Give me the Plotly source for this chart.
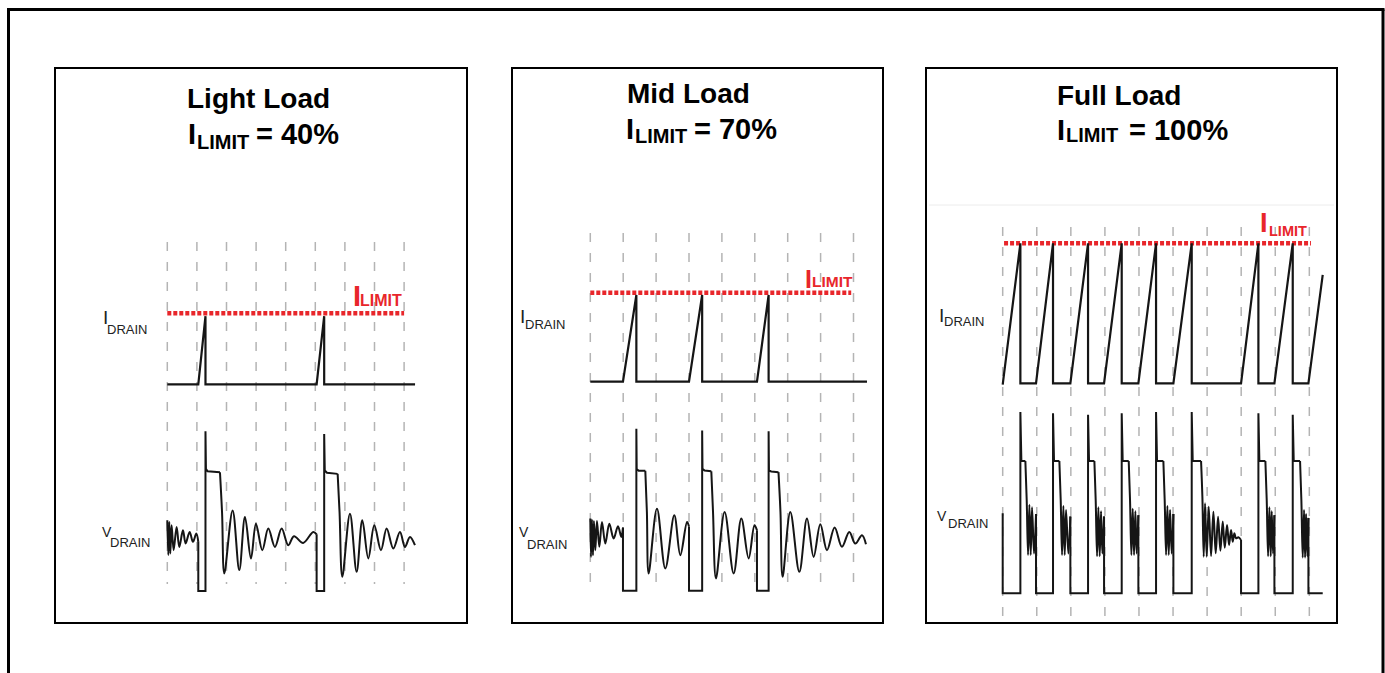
import plotly.graph_objects as go

W, H = 1385, 673

# ---------------- data (time in grid divisions, I in fraction of full limit, V normalised to plateau) ----------------
titles = ["Light Load", "Mid Load", "Full Load"]
limit_text = ["= 40%", "= 70%", "= 100%"]
i_limit = [0.4, 0.7, 1.0]

grid_1 = [0, 1, 2, 3, 4, 5, 6, 7, 8]
grid_2 = [0, 1, 2, 3, 4, 5, 6, 7, 8]
grid_3 = [0, 1, 2, 3, 4, 5, 6, 7, 8, 9]

limit_t_1 = [0.0, 8.0]
limit_t_2 = [0.0, 7.93]
limit_t_3 = [0.04, 9.05]

# ---- Light load ----
idrain_t_1 = [0.0, 1.047, 1.29, 1.29, 5.045, 5.30, 5.30, 8.37]
idrain_v_1 = [0.0, 0.0, 0.383, 0.0, 0.0, 0.383, 0.0, 0.0]

vedge_t_1 = [1.047, 1.047, 1.29, 1.29, 1.305, 1.363, 1.779, None,
             5.045, 5.045, 5.30, 5.30, 5.32, 5.394, 5.755]
vedge_v_1 = [0.408, 0.0, 0.0, 1.325, 1.014, 0.994, 0.986, None,
             0.47, 0.0, 0.0, 1.303, 1.0, 0.981, 0.972]

vring_t_1 = [0.0, 0.034, 0.068, 0.101, 0.146, 0.214, 0.315, 0.405, 0.529, 0.619, 0.755, 0.867, 0.980, 1.047, None,
             1.779, 1.85, 1.926, 2.207, 2.432, 2.624, 2.827, 2.995, 3.209, 3.412, 3.637, 3.863, 4.088, 4.28, 4.59,
             4.93, 5.045, None,
             5.755, 5.82, 5.912, 6.171, 6.396, 6.588, 6.791, 6.993, 7.218, 7.41, 7.635, 7.860, 8.029, 8.198, 8.367]
vring_v_1 = [0.587, 0.298, 0.573, 0.311, 0.545, 0.339, 0.532, 0.366, 0.504, 0.394, 0.490, 0.408, 0.477, 0.408, None,
             0.986, 0.65, 0.146, 0.669, 0.174, 0.614, 0.270, 0.559, 0.339, 0.518, 0.366, 0.518, 0.380, 0.455, 0.399,
             0.490, 0.47, None,
             0.972, 0.65, 0.118, 0.642, 0.160, 0.587, 0.270, 0.545, 0.339, 0.518, 0.353, 0.490, 0.366, 0.449, 0.380]

# ---- Mid load ----
idrain_t_2 = [0.0, 0.993, 1.40, 1.40, 3.0, 3.40, 3.40, 5.066, 5.42, 5.42, 8.41]
idrain_v_2 = [0.0, 0.0, 0.682, 0.0, 0.0, 0.682, 0.0, 0.0, 0.682, 0.0, 0.0]

vedge_t_2 = [0.993, 0.993, 1.40, 1.40, 1.41, 1.47, 1.672, None,
             3.0, 3.0, 3.40, 3.40, 3.41, 3.475, 3.678, None,
             5.066, 5.066, 5.42, 5.42, 5.43, 5.50, 5.72]
vedge_v_2 = [0.521, 0.0, 0.0, 1.337, 1.005, 0.99, 0.989, None,
             0.53, 0.0, 0.0, 1.321, 1.005, 0.992, 0.986, None,
             0.499, 0.0, 0.0, 1.315, 0.992, 0.984, 0.978]

vring_t_2 = [0.0, 0.020, 0.051, 0.081, 0.111, 0.152, 0.203, 0.274, 0.355, 0.456, 0.578, 0.709, 0.841, 0.942, 0.993, None,
             1.672, 1.72, 1.773, 2.026, 2.28, 2.553, 2.736, 2.94, 3.0, None,
             3.678, 3.73, 3.82, 4.083, 4.357, 4.59, 4.813, 4.99, 5.066, None,
             5.72, 5.78, 5.846, 6.079, 6.353, 6.586, 6.788, 6.991, 7.194, 7.427, 7.649, 7.872, 8.055, 8.257, 8.379]
vring_v_2 = [0.595, 0.279, 0.586, 0.293, 0.575, 0.334, 0.575, 0.362, 0.567, 0.389, 0.553, 0.430, 0.532, 0.444, 0.521, None,
             0.989, 0.65, 0.142, 0.677, 0.184, 0.622, 0.293, 0.567, 0.53, None,
             0.986, 0.65, 0.101, 0.649, 0.142, 0.595, 0.266, 0.540, 0.499, None,
             0.978, 0.65, 0.115, 0.649, 0.156, 0.595, 0.279, 0.548, 0.334, 0.521, 0.362, 0.485, 0.389, 0.458, 0.384]

# ---- Full load ----
idrain_t_3 = [0.0, 0.519, 0.519, 0.978, 1.477, 1.477, 1.986, 2.505, 2.505, 2.975, 3.493, 3.493, 3.982, 4.501, 4.501,
              5.010, 5.548, 5.548, 6.996, 7.505, 7.505, 7.975, 8.513, 8.513, 8.973, 9.393]
idrain_v_3 = [-0.01, 1.0, 0.0, 0.0, 1.0, 0.0, 0.0, 1.0, 0.0, 0.0, 1.0, 0.0, 0.0, 1.0, 0.0,
              0.0, 1.0, 0.0, 0.0, 1.0, 0.0, 0.0, 1.0, 0.0, 0.0, 0.774]

vedge_t_3 = [0.0, 0.0, 0.519, 0.519, 0.548, 0.665, None,
             0.978, 0.978, 1.477, 1.477, 1.506, 1.663, None,
             1.986, 1.986, 2.505, 2.505, 2.534, 2.691, None,
             2.975, 2.975, 3.493, 3.493, 3.522, 3.699, None,
             3.982, 3.982, 4.501, 4.501, 4.530, 4.716, None,
             5.010, 5.010, 5.548, 5.548, 5.577, 5.822, None,
             6.996, 6.996, 7.505, 7.505, 7.534, 7.710, None,
             7.975, 7.975, 8.513, 8.513, 8.542, 8.728, None,
             8.973, 8.973, 9.393]
vedge_v_3 = [0.605, 0.0, 0.0, 1.37, 1.0, 1.0, None,
             0.60, 0.0, 0.0, 1.36, 1.0, 1.0, None,
             0.58, 0.0, 0.0, 1.35, 1.0, 1.0, None,
             0.58, 0.0, 0.0, 1.36, 1.0, 1.0, None,
             0.59, 0.0, 0.0, 1.37, 1.0, 1.0, None,
             0.60, 0.0, 0.0, 1.37, 1.0, 1.0, None,
             0.403, 0.0, 0.0, 1.36, 1.0, 1.0, None,
             0.59, 0.0, 0.0, 1.35, 1.0, 1.0, None,
             0.57, 0.0, 0.0]

vring_t_3 = [0.665, 0.705, 0.744, 0.783, 0.822, 0.861, 0.920, 0.978, None,
             1.663, 1.703, 1.742, 1.781, 1.820, 1.859, 1.928, 1.986, None,
             2.691, 2.730, 2.769, 2.808, 2.847, 2.886, 2.926, 2.975, None,
             3.699, 3.738, 3.777, 3.816, 3.855, 3.894, 3.933, 3.982, None,
             4.716, 4.755, 4.795, 4.834, 4.873, 4.912, 4.961, 5.010, None,
             5.822, 5.861, 5.900, 5.939, 5.988, 6.047, 6.115, 6.184, 6.252, 6.321, 6.389, 6.458, 6.517, 6.585,
             6.644, 6.703, 6.751, 6.800, 6.849, 6.918, 6.996, None,
             7.710, 7.750, 7.789, 7.828, 7.867, 7.896, 7.935, 7.975, None,
             8.728, 8.767, 8.806, 8.845, 8.875, 8.904, 8.943, 8.973]
vring_v_3 = [1.0, 0.70, 0.29, 0.67, 0.29, 0.65, 0.30, 0.60, None,
             1.0, 0.70, 0.29, 0.66, 0.29, 0.63, 0.30, 0.58, None,
             1.0, 0.70, 0.28, 0.65, 0.28, 0.62, 0.30, 0.58, None,
             1.0, 0.70, 0.29, 0.64, 0.29, 0.62, 0.30, 0.59, None,
             1.0, 0.70, 0.29, 0.66, 0.29, 0.63, 0.30, 0.60, None,
             1.0, 0.730, 0.277, 0.680, 0.277, 0.655, 0.282, 0.617, 0.302, 0.579, 0.322, 0.542, 0.345, 0.516,
             0.365, 0.479, 0.390, 0.453, 0.416, 0.423, 0.403, None,
             1.0, 0.70, 0.28, 0.65, 0.28, 0.62, 0.30, 0.59, None,
             1.0, 0.70, 0.27, 0.63, 0.27, 0.60, 0.28, 0.57]

# ---------------- layout geometry (window pixels) ----------------
panels = [
    dict(L=56, R=466, T=69, B=622, x0=167.3, s=29.6, ib=384.3, il=313.2, v0=591.0, v1=470.5, gt=242, gb=584,
         grid=grid_1, lim_t=limit_t_1, it=idrain_t_1, iv=idrain_v_1, et=vedge_t_1, ev=vedge_v_1,
         rt=vring_t_1, rv=vring_v_1),
    dict(L=513, R=882, T=69, B=622, x0=590.3, s=32.9, ib=381.7, il=292.7, v0=590.7, v1=469.5, gt=233, gb=591,
         grid=grid_2, lim_t=limit_t_2, it=idrain_t_2, iv=idrain_v_2, et=vedge_t_2, ev=vedge_v_2,
         rt=vring_t_2, rv=vring_v_2),
    dict(L=927, R=1335.5, T=69, B=622, x0=1002.7, s=34.07, ib=383.3, il=243.3, v0=593.3, v1=461.0, gt=227, gb=618,
         grid=grid_3, lim_t=limit_t_3, it=idrain_t_3, iv=idrain_v_3, et=vedge_t_3, ev=vedge_v_3,
         rt=vring_t_3, rv=vring_v_3),
]

RED = "#e8262b"
INK = "#151515"
GRID = "#b4b4b4"
SANS = "Liberation Sans, Arial, sans-serif"


def px(x):
    return x / W


def py(y):
    return 1 - y / H


def yrange(top, bot, va, pa, vb, pb):
    k = (vb - va) / (pa - pb)
    return [va + (pa - bot) * k, va + (pa - top) * k]


fig = go.Figure()
layout = dict(width=W, height=H, margin=dict(l=0, r=0, t=0, b=0), paper_bgcolor="white",
              plot_bgcolor="rgba(0,0,0,0)", showlegend=False)
shapes = []

for k, p in enumerate(panels, start=1):
    xname = "x" if k == 1 else f"x{k}"
    xkey = "xaxis" if k == 1 else f"xaxis{k}"
    yi = 2 * k - 1
    yv = 2 * k
    yiname = "y" if yi == 1 else f"y{yi}"
    yikey = "yaxis" if yi == 1 else f"yaxis{yi}"
    yvname = f"y{yv}"
    yvkey = f"yaxis{yv}"
    common = dict(showgrid=False, zeroline=False, showticklabels=False, ticks="", fixedrange=True)
    layout[xkey] = dict(domain=[px(p["L"]), px(p["R"])],
                        range=[(p["L"] - p["x0"]) / p["s"], (p["R"] - p["x0"]) / p["s"]],
                        anchor=yiname, showline=True, mirror=True, linecolor="black", linewidth=2, **common)
    layout[yikey] = dict(domain=[py(p["B"]), py(p["T"])],
                         range=yrange(p["T"], p["B"], 0.0, p["ib"], i_limit[k - 1], p["il"]),
                         anchor=xname, showline=True, mirror=True, linecolor="black", linewidth=2, **common)
    layout[yvkey] = dict(overlaying=yiname, anchor=xname,
                         range=yrange(p["T"], p["B"], 0.0, p["v0"], 1.0, p["v1"]), visible=False, **common)

    for g in p["grid"]:
        shapes.append(dict(type="line", xref=xname, yref="paper", x0=g, x1=g, y0=py(p["gt"]), y1=py(p["gb"]),
                           line=dict(color=GRID, width=1.5, dash="9px,11px"), layer="below"))

    fig.add_trace(go.Scatter(x=p["lim_t"], y=[i_limit[k - 1]] * len(p["lim_t"]), xaxis=xname, yaxis=yiname,
                             mode="lines", line=dict(color=RED, width=4.5, dash="4px,2px"), hoverinfo="skip"))
    fig.add_trace(go.Scatter(x=p["it"], y=p["iv"], xaxis=xname, yaxis=yiname, mode="lines",
                             line=dict(color=INK, width=2.2), hoverinfo="skip"))
    fig.add_trace(go.Scatter(x=p["et"], y=p["ev"], xaxis=xname, yaxis=yvname, mode="lines",
                             line=dict(color=INK, width=2), connectgaps=False, hoverinfo="skip"))
    fig.add_trace(go.Scatter(x=p["rt"], y=p["rv"], xaxis=xname, yaxis=yvname, mode="lines",
                             line=dict(color=INK, width=2, shape="spline", smoothing=1.0), connectgaps=False,
                             hoverinfo="skip"))

# outer frame (left, top, right)
shapes.append(dict(type="line", xref="paper", yref="paper", x0=px(8.5), x1=px(8.5), y0=py(9.5), y1=py(700),
                   line=dict(color="black", width=3)))
shapes.append(dict(type="line", xref="paper", yref="paper", x0=px(7), x1=px(1384.5), y0=py(9.5), y1=py(9.5),
                   line=dict(color="black", width=3)))
shapes.append(dict(type="line", xref="paper", yref="paper", x0=px(1383), x1=px(1383), y0=py(9.5), y1=py(700),
                   line=dict(color="black", width=3)))
# faint pasted-image edge in the Full Load panel
shapes.append(dict(type="line", xref="paper", yref="paper", x0=px(929), x1=px(1334), y0=py(205), y1=py(205),
                   line=dict(color="#ececec", width=1)))


def ann(text, x, y, size, color="black", family=SANS):
    return dict(text=text, x=px(x), y=py(y), xref="paper", yref="paper", xanchor="left", yanchor="middle",
                showarrow=False, font=dict(size=size, color=color, family=family), borderpad=0)


annotations = []
# titles
title_pos = [
    dict(t=(185.5, 98), i=(187, 134), lim=(195.5, 142), eq=(254.5, 134)),
    dict(t=(625.5, 94), i=(624.5, 129), lim=(633.5, 136), eq=(692.5, 129)),
    dict(t=(1055.5, 96), i=(1056, 130), lim=(1065, 135.5), eq=(1127.5, 130)),
]
for k, tp in enumerate(title_pos):
    annotations.append(ann("<b>" + titles[k] + "</b>", tp["t"][0], tp["t"][1], 28))
    annotations.append(ann("<b>I</b>", tp["i"][0], tp["i"][1], 29))
    annotations.append(ann("<b>LIMIT</b>", tp["lim"][0], tp["lim"][1], 20))
    annotations.append(ann("<b>" + limit_text[k] + "</b>", tp["eq"][0], tp["eq"][1], 29))

# red I_LIMIT labels
red_pos = [
    dict(i=(351.5, 296, 29), lim=(358.5, 300.5, 16)),
    dict(i=(803.5, 279, 25), lim=(810.5, 281.7, 15.5)),
    dict(i=(1259, 223, 27), lim=(1267.5, 231, 14.5)),
]
for rp in red_pos:
    annotations.append(ann("<b>I</b>", rp["i"][0], rp["i"][1], rp["i"][2], color=RED))
    annotations.append(ann("<b>LIMIT</b>", rp["lim"][0], rp["lim"][1], rp["lim"][2], color=RED))

# I_DRAIN / V_DRAIN labels
lab_pos = [
    dict(I=(102, 317.5), ID=(105.5, 329.5), V=(100.5, 531.7), VD=(109, 542.5)),
    dict(I=(519, 316.7), ID=(524.3, 324), V=(517.5, 531.7), VD=(526, 544)),
    dict(I=(938, 315), ID=(943.3, 321.7), V=(936.5, 516), VD=(946.7, 523)),
]
LAB = "#222222"
for lp in lab_pos:
    annotations.append(ann("I", lp["I"][0], lp["I"][1], 19, color=LAB))
    annotations.append(ann("DRAIN", lp["ID"][0], lp["ID"][1], 13, color=LAB))
    annotations.append(ann("V", lp["V"][0], lp["V"][1], 14, color=LAB))
    annotations.append(ann("DRAIN", lp["VD"][0], lp["VD"][1], 13, color=LAB))

layout["shapes"] = shapes
layout["annotations"] = annotations
fig.update_layout(**layout)
fig.update_traces(showlegend=False)

fig.write_html("out.html", config={"displayModeBar": False},
               post_script="document.body.style.margin='0';document.body.style.overflow='hidden';")
